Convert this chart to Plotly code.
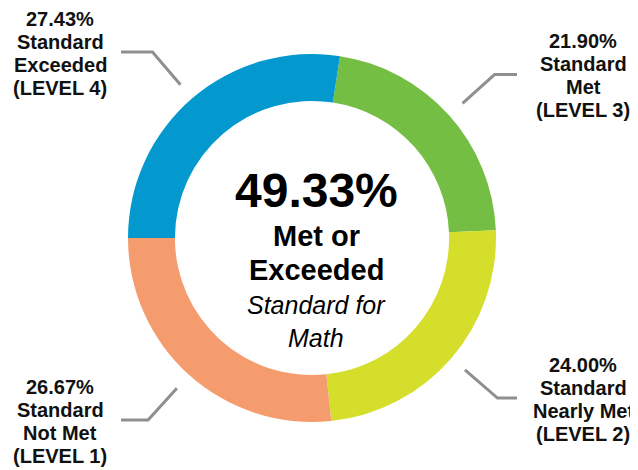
import math
import plotly.graph_objects as go

# slices in drawing order (clockwise, starting just right of 12 o'clock)
levels = [["Standard", "Met", "(LEVEL 3)"],
          ["Standard", "Nearly Met", "(LEVEL 2)"],
          ["Standard", "Not Met", "(LEVEL 1)"],
          ["Standard", "Exceeded", "(LEVEL 4)"]]
percents = [21.90, 24.00, 26.67, 27.43]
colors = ["#74BE43", "#D5DF2B", "#F59C6E", "#0399CF"]

center_value = "49.33%"
center_lines = ["Met or", "Exceeded"]
center_sub = ["Standard for", "Math"]

W, H = 638, 470
OFF = 8                            # page body margin: plot div sits at (8, 8)
cx, cy, R = 312, 238, 184          # ring centre / outer radius in screen pixels
FONT = "Liberation Sans, Arial, sans-serif"

# Level 4 (last slice) ends at 9 o'clock
rotation = percents[-1] / 100 * 360 - 90

fig = go.Figure()

fig.add_trace(go.Pie(
    values=percents, labels=[" ".join(l) for l in levels], sort=False,
    direction="clockwise", rotation=rotation, hole=0.745,
    textinfo="none", hoverinfo="skip",
    marker=dict(colors=colors, line=dict(width=0)),
    domain=dict(x=[(cx - OFF - R) / W, (cx - OFF + R) / W],
                y=[1 - (cy - OFF + R) / H, 1 - (cy - OFF - R) / H]),
    showlegend=False,
))

# leader lines + labels, placed from each slice's mid angle
total = sum(percents)
start = rotation
for lab, p in zip(levels, percents):
    mid = math.radians(start + p / total * 360 / 2)
    start += p / total * 360
    s, c = math.sin(mid), math.cos(mid)
    x0, y0 = cx + 202 * s, cy - 202 * c
    x1, y1 = cx + 245 * s, cy - 245 * c
    right = s > 0
    x2 = 517 if right else 121
    fig.add_trace(go.Scatter(x=[x0, x1, x2], y=[y0, y1, y1], mode="lines",
                             line=dict(color="#8F8F8F", width=3),
                             hoverinfo="skip", showlegend=False))
    lines = [f"{p:.2f}%"] + lab
    for k, t in enumerate(lines):
        fig.add_annotation(x=583 if right else 60, y=y1 + 1 + (k - 1.5) * 23,
                           xref="x", yref="y", text=f"<b>{t}</b>", showarrow=False,
                           xanchor="center", yanchor="middle",
                           font=dict(family=FONT, size=20, color="#111111"))

# centre text
fig.add_annotation(x=cx + 4, y=190, xref="x", yref="y", showarrow=False,
                   text=f"<b>{center_value}</b>",
                   font=dict(family=FONT, size=48, color="#000000"))
for i, t in enumerate(center_lines):
    fig.add_annotation(x=cx + 4, y=236 + i * 34, xref="x", yref="y", showarrow=False,
                       text=f"<b>{t}</b>",
                       font=dict(family=FONT, size=29, color="#000000"))
for i, t in enumerate(center_sub):
    fig.add_annotation(x=cx + 4, y=305 + i * 33, xref="x", yref="y", showarrow=False,
                       text=f"<i>{t}</i>",
                       font=dict(family=FONT, size=25, color="#000000"))

# axes in screen pixels, shifted for the page margin
fig.update_xaxes(range=[OFF, OFF + W], visible=False, fixedrange=True)
fig.update_yaxes(range=[OFF + H, OFF], visible=False, fixedrange=True)
fig.update_layout(width=W, height=H, margin=dict(l=0, r=0, t=0, b=0),
                  paper_bgcolor="white", plot_bgcolor="white")

fig.write_html("out.html", config={"displayModeBar": False})
